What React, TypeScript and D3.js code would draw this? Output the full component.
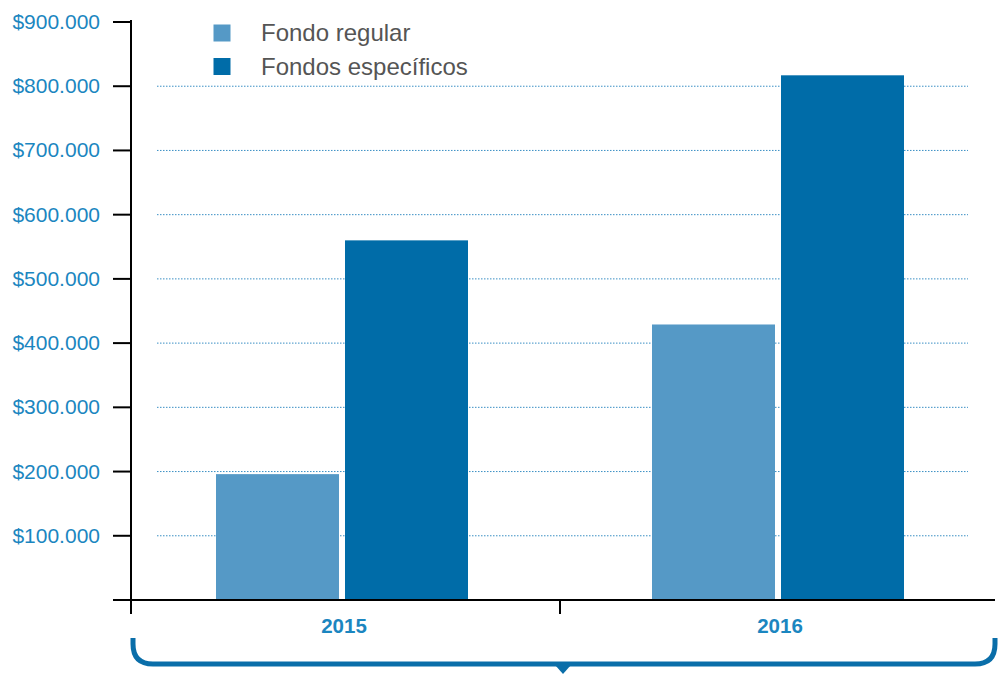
import React from "react";
import * as d3 from "d3";

const years = ["2015", "2016"];
const series = ["Fondo regular", "Fondos específicos"];
const regular = [196000, 429000];
const especificos = [560000, 817000];
const yTicks = [100000, 200000, 300000, 400000, 500000, 600000, 700000, 800000, 900000];
const colors = ["#5599c6", "#006ca8"];

const fmt = (v: number) => "$" + d3.format(",")(v).replace(/,/g, ".");

export default function App() {
  const W = 1004, H = 675;
  const x0 = 131, yBase = 600;
  const y = d3.scaleLinear().domain([0, 900000]).range([yBase, 22]);
  const xBand = d3.scaleBand().domain(years).range([124, 996]).paddingInner(0).paddingOuter(0);
  const inner = d3.scaleBand().domain(series).range([0, 252]).paddingInner(0.0465);
  const values = [regular, especificos];
  const bw = xBand.bandwidth();
  const tickColor = "#1b86c0";
  return (
    <svg width={W} height={H} style={{ position: "absolute", left: 0, top: 0, fontFamily: "'Liberation Sans', Arial, sans-serif" }}>
      {yTicks.filter(t => t < 900000).map(t => (
        <line key={"g" + t} x1={157} x2={968} y1={y(t)} y2={y(t)} stroke="#3a8fc4" strokeWidth={1} strokeDasharray="1.5,1.5" />
      ))}
      {years.map((yr, i) => {
        const gx = (xBand(yr) as number) + bw / 2 - 126;
        return series.map((s, j) => (
          <rect key={yr + s} x={gx + (inner(s) as number)} y={y(values[j][i])} width={inner.bandwidth()} height={yBase - y(values[j][i])} fill={colors[j]} />
        ));
      })}
      <line x1={x0} x2={x0} y1={20} y2={yBase} stroke="#000" strokeWidth={2} />
      <line x1={113} x2={995} y1={yBase} y2={yBase} stroke="#000" strokeWidth={2} />
      {[0, ...yTicks].map(t => (
        <line key={"t" + t} x1={113} x2={x0} y1={y(t)} y2={y(t)} stroke="#000" strokeWidth={2} />
      ))}
      {yTicks.map(t => (
        <text key={"l" + t} x={100} y={y(t) + 7} textAnchor="end" fontSize={21} fill={tickColor}>{fmt(t)}</text>
      ))}
      {[x0, (xBand("2016") as number)].map((tx, i) => (
        <line key={"xt" + i} x1={tx} x2={tx} y1={yBase} y2={614} stroke="#000" strokeWidth={2} />
      ))}
      {years.map(yr => (
        <text key={"x" + yr} x={(xBand(yr) as number) + bw / 2 + 2} y={633} textAnchor="middle" fontSize={20.5} fontWeight="bold" fill={tickColor}>{yr}</text>
      ))}
      <path d={`M133,638 L133,644 Q133,664 153,664 L975,664 Q995,664 995,644 L995,638`} fill="none" stroke="#0a6ea9" strokeWidth={5} />
      <path d={`M555,665 L571,665 L563,674 Z`} fill="#0a6ea9" />
      {series.map((s, j) => (
        <g key={"lg" + s}>
          <rect x={213.5} y={24.5 + j * 33.5} width={17} height={17} fill={colors[j]} />
          <text x={261} y={41 + j * 34} fontSize={24} fill="#555">{s}</text>
        </g>
      ))}
    </svg>
  );
}
